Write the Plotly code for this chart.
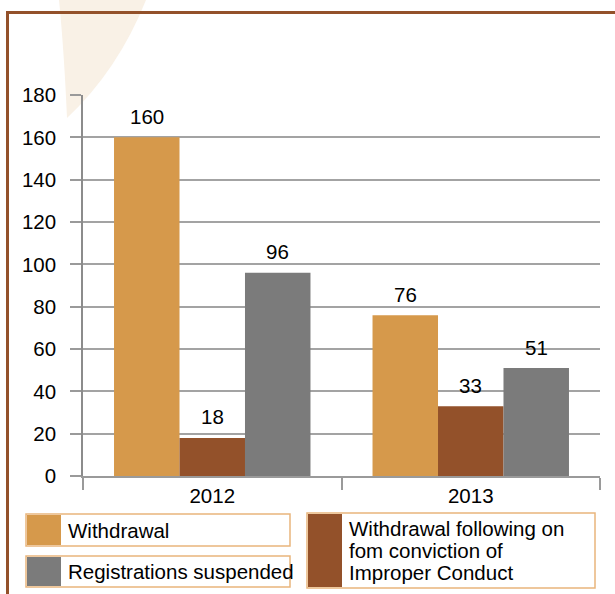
import plotly.graph_objects as go

# ---- data ----
years = ["2012", "2013"]
series_names = [
    "Withdrawal",
    "Withdrawal following on<br>fom conviction of<br>Improper Conduct",
    "Registrations suspended",
]
withdrawal = [160, 76]
withdrawal_conviction = [18, 33]
suspended = [96, 51]
y_ticks = [0, 20, 40, 60, 80, 100, 120, 140, 160, 180]

colors = ["#D6994B", "#93512A", "#7B7B7B"]
values = [withdrawal, withdrawal_conviction, suspended]

W, H = 615, 594
L, R, T, B = 83, 15, 95, 118
PW, PH = W - L - R, H - T - B
BARGAP = 0.24
FONT = "Liberation Sans, Arial, sans-serif"
FS = 20.5


def px(x):
    return (x - L) / PW


def py(y):
    return (H - B - y) / PH


fig = go.Figure()
for name, vals, col in zip(series_names, values, colors):
    fig.add_trace(go.Bar(x=years, y=vals, name=name, marker=dict(color=col, line=dict(width=0)),
                         showlegend=False))

# value labels above each bar
bw = (1 - BARGAP) / len(values)
annotations = []
for si, vals in enumerate(values):
    off = (si - (len(values) - 1) / 2) * bw
    for ci, v in enumerate(vals):
        annotations.append(dict(x=ci + off, y=v, xref="x", yref="y", text=str(v), showarrow=False,
                                yshift=21, font=dict(size=FS, color="#000", family=FONT)))

shapes = []
# pale decorative sweep behind the chart
shapes.append(dict(type="path", xref="paper", yref="paper", layer="below", line=dict(width=0),
                   fillcolor="#F9F1E6",
                   path=(f"M {px(59)},{py(0)} L {px(146)},{py(0)} "
                         f"Q {px(118)},{py(70)} {px(67)},{py(118)} "
                         f"Q {px(64)},{py(50)} {px(59)},{py(0)} Z")))
# brown frame
shapes.append(dict(type="path", xref="paper", yref="paper", layer="above",
                   line=dict(color="#93512A", width=3),
                   path=f"M {px(7.5)},{py(600)} L {px(7.5)},{py(12.5)} L {px(620)},{py(12.5)}"))

# legend boxes
legend_items = [
    (0, 26, 514, 290, 546, 61),
    (2, 26, 556, 290, 587, 61),
    (1, 307, 513, 595, 588, 342),
]
for si, x0, y0, x1, y1, sw in legend_items:
    shapes.append(dict(type="rect", xref="paper", yref="paper", x0=px(x0), x1=px(x1), y0=py(y0), y1=py(y1),
                       line=dict(color="#E9B57C", width=1.5), fillcolor="white", layer="above"))
    shapes.append(dict(type="rect", xref="paper", yref="paper", x0=px(x0 + 1), x1=px(sw), y0=py(y0 + 1),
                       y1=py(y1 - 1), line=dict(width=0), fillcolor=colors[si], layer="above"))
    lines = series_names[si].split("<br>")
    step = 22
    mid = (y0 + y1) / 2
    for li, line in enumerate(lines):
        yc = mid + (li - (len(lines) - 1) / 2) * step
        annotations.append(dict(x=px(sw + 5), y=py(yc), xref="paper", yref="paper",
                                text=line, showarrow=False, xanchor="left", yanchor="middle",
                                align="left", font=dict(size=FS, color="#000", family=FONT)))

fig.update_layout(
    width=W, height=H,
    margin=dict(l=L, r=R, t=T, b=B),
    paper_bgcolor="white", plot_bgcolor="white",
    barmode="group", bargap=BARGAP, bargroupgap=0,
    font=dict(family=FONT, size=FS, color="#000"),
    shapes=shapes, annotations=annotations,
    xaxis=dict(type="category", showgrid=False, showline=True, linecolor="#9A9A9A", linewidth=2,
               ticks="outside", tickson="boundaries", ticklen=12, tickcolor="#9A9A9A", tickwidth=1.5,
               tickfont=dict(size=FS, family=FONT, color="#000"), range=[-0.5, 1.5]),
    yaxis=dict(range=[0, 180], tickvals=y_ticks, showgrid=True, gridcolor="#A3A3A3", gridwidth=1.5,
               showline=True, linecolor="#8C8C8C", linewidth=1.5, ticks="outside", ticklen=11,
               tickcolor="#9A9A9A", tickwidth=1.5, zeroline=False, ticklabelstandoff=10,
               tickfont=dict(size=FS, family=FONT, color="#000")),
)

fig.write_html("out.html")
